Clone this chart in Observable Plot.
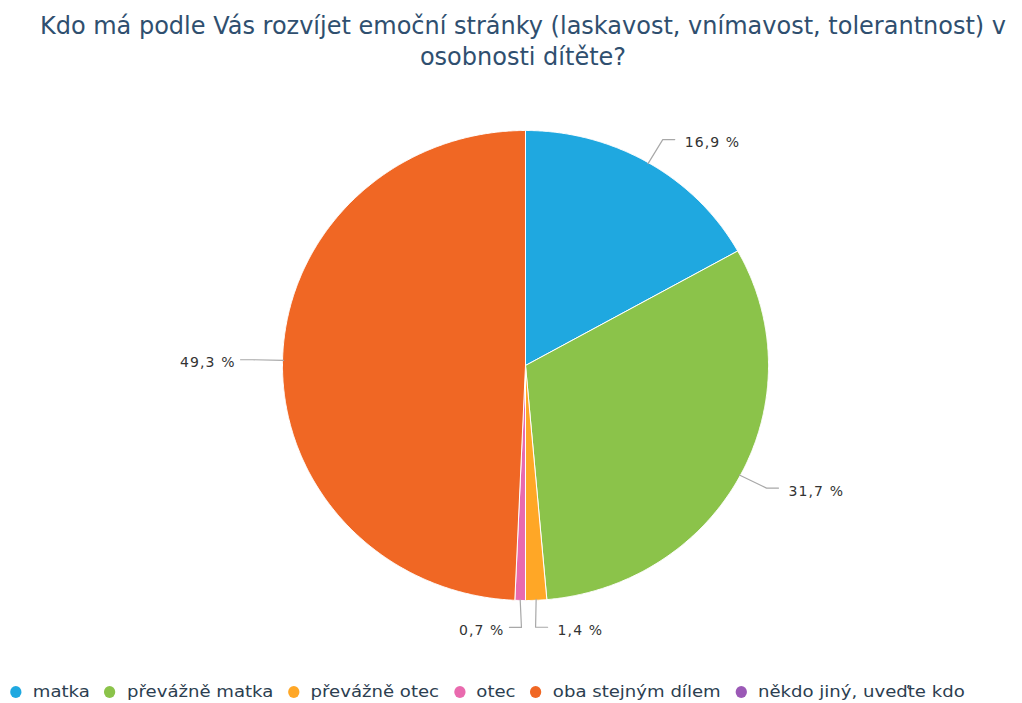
<!DOCTYPE html>
<html><head><meta charset="utf-8">
<script src="https://cdn.jsdelivr.net/npm/d3@7"></script>
<script src="https://cdn.jsdelivr.net/npm/@observablehq/plot@0.6"></script>
<style>
body{margin:0;background:#fff;width:1022px;height:703px;position:relative;overflow:hidden;font-family:"DejaVu Sans",sans-serif;}
#title{position:absolute;left:12px;top:11px;width:1022px;text-align:center;color:#2f4f6f;font-size:24px;line-height:31px;white-space:nowrap;}
#chart{position:absolute;left:0;top:70px;}
#legend{position:absolute;left:0;top:682px;display:flex;color:#2c3e50;font-size:16px;white-space:nowrap;transform:scaleX(1.13);transform-origin:left center;}
.item{display:flex;align-items:center;margin-right:13px;}
.sym{width:10px;height:12px;border-radius:50%;margin-right:10px;display:inline-block;}
.item:first-child{margin-left:9px;}
</style></head>
<body>
<div id="title">Kdo má podle Vás rozvíjet emoční stránky (laskavost, vnímavost, tolerantnost) v<br>osobnosti dítěte?</div>
<div id="chart"></div>
<div id="legend"></div>
<script>
const categories = ["matka","převážně matka","převážně otec","otec","oba stejným dílem","někdo jiný, uveďte kdo"];
const values = [16.9, 31.7, 1.4, 0.7, 49.3, 0];
const colors = ["#1fa8e0","#8bc34a","#ffa726","#e96aae","#f06724","#9b59b6"];
const labels = ["16,9 %","31,7 %","1,4 %","0,7 %","49,3 %",""];

// layout (pixels): SVG is placed 70px below the page top
const W = 1022, H = 600, cx = 525, cy = 295, R = 243, RY = 235; // pie is slightly squashed vertically
const ky = RY / R; // y pixels per data unit
const arcs = d3.pie().sort(null).value(d => d)(values);
const pt = (a, rx, ry = rx) => ({x: Math.sin(a) * rx, y: Math.cos(a) * ry});

const marks = [];
arcs.forEach((a, i) => {
  if (values[i] <= 0) return;
  const pts = [{x: 0, y: 0}];
  const n = Math.max(2, Math.ceil((a.endAngle - a.startAngle) / 0.005));
  for (let k = 0; k <= n; k++) pts.push(pt(a.startAngle + (a.endAngle - a.startAngle) * k / n, R));
  pts.push({x: 0, y: 0});
  marks.push(Plot.line(pts, {x: "x", y: "y", fill: colors[i], stroke: "#fff", strokeWidth: 1, strokeLinejoin: "round"}));
});

const lab = [];
arcs.forEach((a, i) => {
  if (values[i] <= 0) return;
  const m = (a.startAngle + a.endAngle) / 2;
  const s = Math.sin(m) >= 0 ? 1 : -1;
  const L = pt(m, 275, 262 / ky);
  const p0 = pt(m, R - 1);
  const p1 = {x: L.x - 2 * s, y: L.y};
  const p2 = {x: L.x + 10 * s, y: L.y};
  marks.push(Plot.line([p0, p1, p2], {x: "x", y: "y", stroke: "#a8a8a8", strokeWidth: 1.2, curve: "linear"}));
  lab.push({x: L.x + (s > 0 ? 20 : 15) * s, y: L.y, text: labels[i], anchor: s > 0 ? "start" : "end"});
});
const txt = {x: "x", y: "y", text: "text", fontSize: 14, fill: "#333", fontFamily: "DejaVu Sans", fontWeight: 500, dy: 3};
marks.push(Plot.text(lab.filter(d => d.anchor === "start"), {...txt, textAnchor: "start"}));
marks.push(Plot.text(lab.filter(d => d.anchor === "end"), {...txt, textAnchor: "end"}));

const chart = Plot.plot({
  width: W, height: H, margin: 0,
  style: {letterSpacing: "1.1px"},
  x: {domain: [-cx, W - cx], range: [0, W], axis: null},
  y: {domain: [-(H - cy) / ky, cy / ky], range: [H, 0], axis: null},
  marks
});
document.getElementById("chart").appendChild(chart);

const leg = document.getElementById("legend");
categories.forEach((c, i) => {
  const it = document.createElement("div"); it.className = "item";
  const s = document.createElement("span"); s.className = "sym"; s.style.background = colors[i];
  const t = document.createElement("span"); t.textContent = c;
  it.appendChild(s); it.appendChild(t); leg.appendChild(it);
});
</script>
</body></html>
